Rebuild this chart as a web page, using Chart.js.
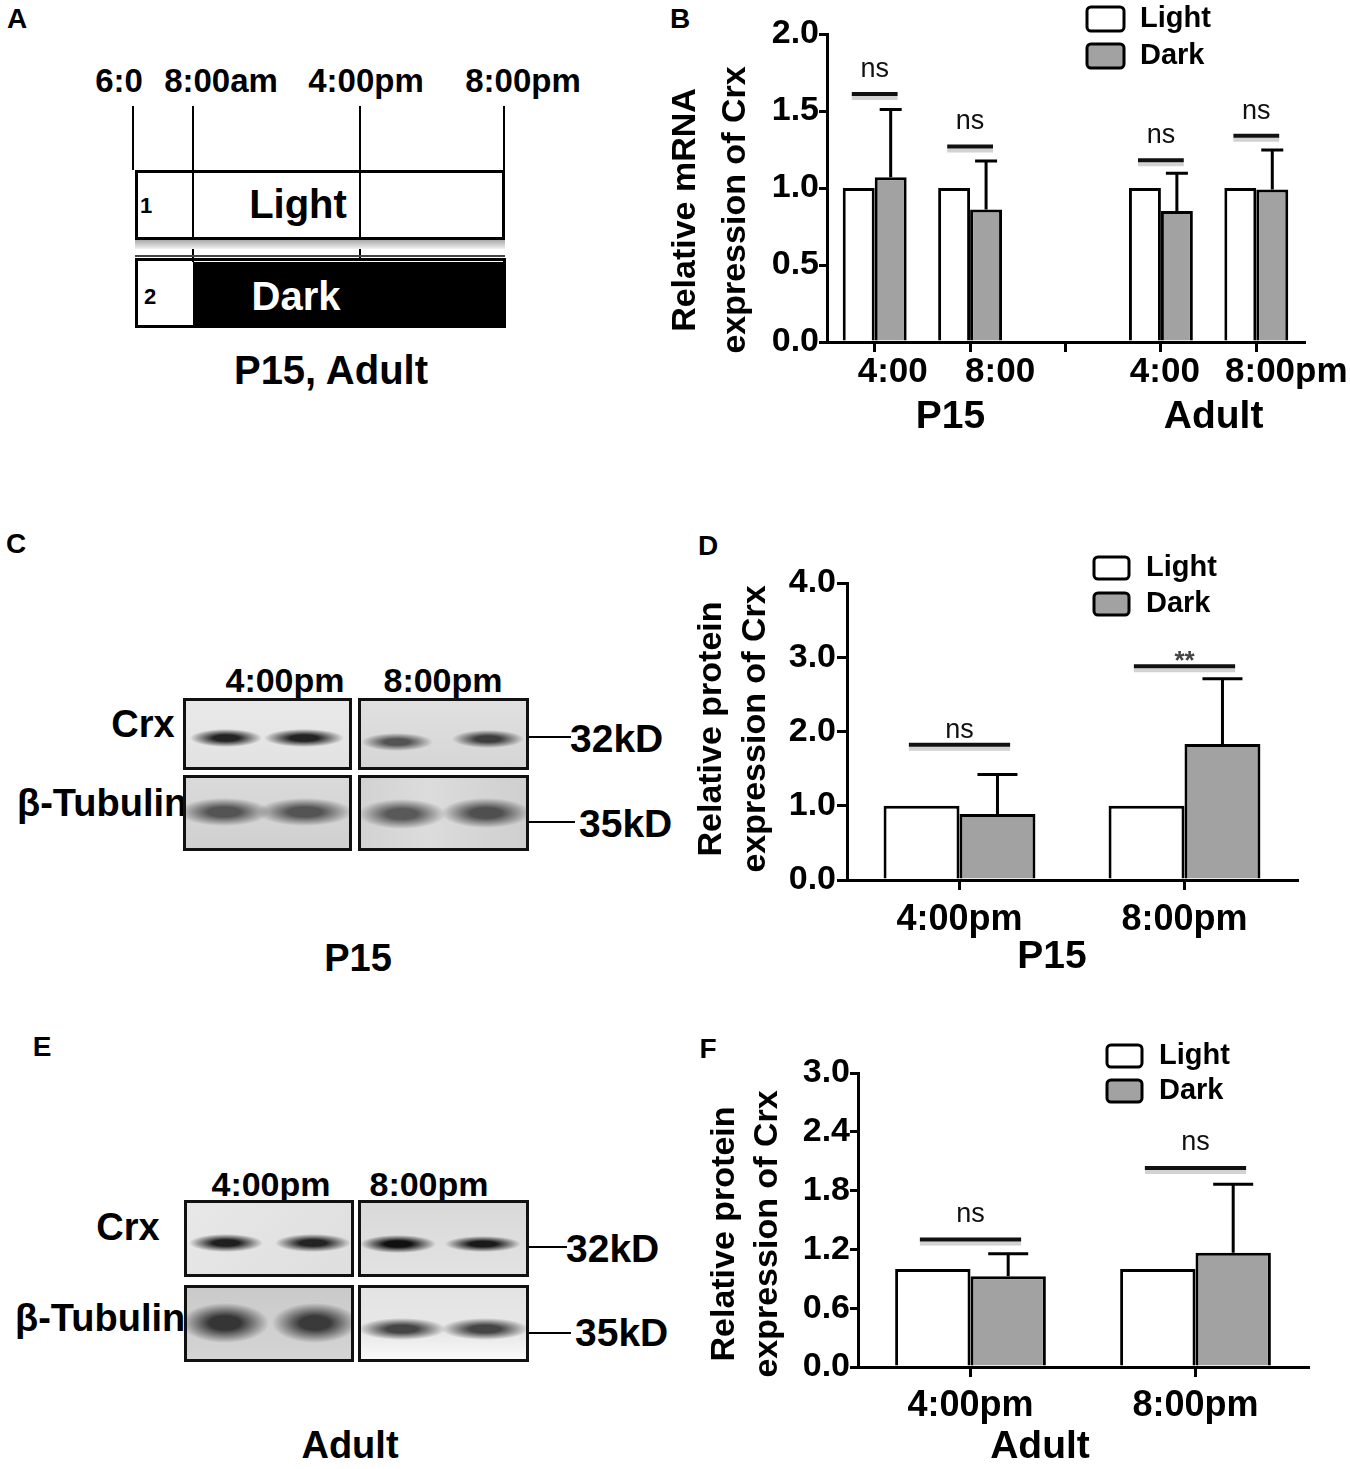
<!DOCTYPE html>
<html>
<head>
<meta charset="utf-8">
<title>Crx expression, light vs dark</title>
<script src="https://cdn.jsdelivr.net/npm/chart.js@4.4.1/dist/chart.umd.min.js"></script>
<style>
  html, body { margin: 0; background: #fff; }
  #fig { position: relative; width: 1350px; height: 1469px; overflow: hidden;
         font-family: "Liberation Sans", Arial, sans-serif; font-weight: bold; color: #000; }
  .t { position: absolute; white-space: nowrap; line-height: 1; }
  .c { transform: translate(-50%, -50%); }
  .l { transform: translate(0, -50%); }
  .ln { position: absolute; background: #000; }
  .box { position: absolute; box-sizing: border-box; border: 3px solid #000; }
  .blot { position: absolute; box-sizing: border-box; border: 3px solid #111; z-index: 2; }
  .chart { position: absolute; }
</style>
</head>
<body>
<div id="fig">

  <!-- A: light/dark schedule -->
  <div class="t c" style="left:17px;top:19px;font-size:28px">A</div>
  <div class="t c" style="left:119px;top:80px;font-size:33px">6:0</div>
  <div class="t c" style="left:221px;top:80px;font-size:33px">8:00am</div>
  <div class="t c" style="left:366px;top:80px;font-size:33px">4:00pm</div>
  <div class="t c" style="left:523px;top:80px;font-size:33px">8:00pm</div>
  <div class="ln" style="left:132px;top:106px;width:2px;height:64px"></div>
  <div class="ln" style="left:192px;top:106px;width:2px;height:156px"></div>
  <div class="ln" style="left:359px;top:106px;width:2px;height:152px"></div>
  <div class="ln" style="left:503px;top:106px;width:2px;height:64px"></div>
  <div class="box" style="left:135px;top:170px;width:370px;height:70px"></div>
  <div style="position:absolute;left:135px;top:240px;width:370px;height:9px;background:linear-gradient(#aaa,#f2f2f2)"></div>
  <div class="ln" style="left:135px;top:255px;width:370px;height:2px;background:#444"></div>
  <div class="box" style="left:135px;top:258px;width:371px;height:70px"></div>
  <div class="ln" style="left:193px;top:262px;width:313px;height:66px"></div>
  <div class="t c" style="left:146px;top:206px;font-size:22px">1</div>
  <div class="t c" style="left:298px;top:204px;font-size:40px">Light</div>
  <div class="t c" style="left:150px;top:297px;font-size:22px">2</div>
  <div class="t c" style="left:296px;top:296px;font-size:40px;color:#fff">Dark</div>
  <div class="t c" style="left:331px;top:370px;font-size:40px">P15, Adult</div>

  <!-- B -->
  <div class="t c" style="left:680px;top:19px;font-size:28px">B</div>
  <div class="chart" style="left:660px;top:0px"><canvas id="chartB" width="690" height="450"></canvas></div>

  <!-- C: P15 blot -->
  <div class="t c" style="left:16px;top:544px;font-size:28px">C</div>
  <div class="t c" style="left:285px;top:680px;font-size:34px">4:00pm</div>
  <div class="t c" style="left:443px;top:680px;font-size:34px">8:00pm</div>
  <div class="t c" style="left:143px;top:724px;font-size:38px">Crx</div>
  <div class="t l" style="left:17px;top:803px;font-size:38px">β-Tubulin</div>
  <div class="ln" style="left:529px;top:736px;width:42px;height:2px"></div>
  <div class="t l" style="left:570px;top:738px;font-size:39px">32kD</div>
  <div class="ln" style="left:529px;top:821px;width:46px;height:2px"></div>
  <div class="t l" style="left:579px;top:823px;font-size:39px">35kD</div>
  <div class="t c" style="left:358px;top:958px;font-size:38px">P15</div>
  <div id="blotC"></div>

  <!-- D -->
  <div class="t c" style="left:708px;top:546px;font-size:28px">D</div>
  <div class="chart" style="left:690px;top:540px"><canvas id="chartD" width="660" height="450"></canvas></div>

  <!-- E: adult blot -->
  <div class="t c" style="left:42px;top:1047px;font-size:28px">E</div>
  <div class="t c" style="left:271px;top:1184px;font-size:34px">4:00pm</div>
  <div class="t c" style="left:429px;top:1184px;font-size:34px">8:00pm</div>
  <div class="t c" style="left:128px;top:1227px;font-size:38px">Crx</div>
  <div class="t l" style="left:15px;top:1318px;font-size:38px">β-Tubulin</div>
  <div class="ln" style="left:529px;top:1246px;width:38px;height:2px"></div>
  <div class="t l" style="left:566px;top:1248px;font-size:39px">32kD</div>
  <div class="ln" style="left:529px;top:1332px;width:42px;height:2px"></div>
  <div class="t l" style="left:575px;top:1332px;font-size:39px">35kD</div>
  <div class="t c" style="left:350px;top:1445px;font-size:38px">Adult</div>
  <div id="blotE"></div>

  <!-- F -->
  <div class="t c" style="left:708px;top:1049px;font-size:28px">F</div>
  <div class="chart" style="left:690px;top:1020px"><canvas id="chartF" width="660" height="449"></canvas></div>
</div>

<script>
// ---- B: relative mRNA expression of Crx ----
const mrnaLabels = ['4:00', '8:00', '', '4:00', '8:00pm'];
const mrnaLight = [1.0, 1.0, null, 1.0, 1.0];
const mrnaDark = [1.07, 0.86, null, 0.85, 0.99];
const mrnaDarkErr = [0.44, 0.315, null, 0.245, 0.257];
const mrnaSigY = [1.61, 1.27, null, 1.18, 1.34];
const mrnaSigText = ['ns', 'ns', null, 'ns', 'ns'];
const mrnaGroups = ['P15', 'Adult'];
const mrnaTicks = [0, 0.5, 1.0, 1.5, 2.0];
const mrnaTitle = ['Relative mRNA', 'expression of Crx'];

// ---- D: relative protein, P15 ----
const p15Labels = ['4:00pm', '8:00pm'];
const p15Light = [1.0, 1.0];
const p15Dark = [0.89, 1.83];
const p15DarkErr = [0.53, 0.88];
const p15SigY = [1.82, 2.88];
const p15SigText = ['ns', '**'];
const p15Groups = ['P15'];
const p15Ticks = [0, 1.0, 2.0, 3.0, 4.0];

// ---- F: relative protein, adult ----
const adultLabels = ['4:00pm', '8:00pm'];
const adultLight = [1.0, 1.0];
const adultDark = [0.925, 1.165];
const adultDarkErr = [0.23, 0.70];
const adultSigY = [1.30, 2.03];
const adultSigText = ['ns', 'ns'];
const adultGroups = ['Adult'];
const adultTicks = [0, 0.6, 1.2, 1.8, 2.4, 3.0];

const proteinTitle = ['Relative protein', 'expression of Crx'];

const FONT = '"Liberation Sans", Arial, sans-serif';
Chart.defaults.font.family = FONT;
Chart.defaults.color = '#000';

// upward SD bars on the datasets that carry an errors array
const errorBars = {
  id: 'errorBars',
  afterDatasetsDraw(chart, args, o) {
    const ctx = chart.ctx, y = chart.scales.y;
    chart.data.datasets.forEach((ds, i) => {
      if (!ds.errors) return;
      chart.getDatasetMeta(i).data.forEach((bar, j) => {
        const v = ds.data[j], e = ds.errors[j];
        if (v == null || e == null) return;
        const top = y.getPixelForValue(v + e);
        ctx.save();
        ctx.strokeStyle = '#000';
        ctx.lineWidth = 3;
        ctx.beginPath();
        ctx.moveTo(bar.x, bar.y);
        ctx.lineTo(bar.x, top);
        ctx.moveTo(bar.x - o.cap, top);
        ctx.lineTo(bar.x + o.cap, top);
        ctx.stroke();
        ctx.restore();
      });
    });
  }
};

// significance lines with ns / ** above each group
const sigBars = {
  id: 'sigBars',
  afterDatasetsDraw(chart, args, o) {
    const ctx = chart.ctx, x = chart.scales.x, y = chart.scales.y;
    const catW = x.width / chart.data.labels.length;
    o.levels.forEach((lv, i) => {
      if (lv == null) return;
      const cx = x.getPixelForValue(i);
      const half = catW * o.frac / 2;
      const py = y.getPixelForValue(lv);
      ctx.save();
      ctx.lineWidth = 4;
      ctx.strokeStyle = '#d2d2d2';
      ctx.beginPath(); ctx.moveTo(cx - half, py + 4); ctx.lineTo(cx + half, py + 4); ctx.stroke();
      ctx.strokeStyle = '#111';
      ctx.beginPath(); ctx.moveTo(cx - half, py); ctx.lineTo(cx + half, py); ctx.stroke();
      const t = o.texts[i];
      const star = t === '**';
      ctx.font = star ? 'bold 26px ' + FONT : '27px ' + FONT;
      ctx.fillStyle = star ? '#444' : '#111';
      ctx.textAlign = 'center';
      ctx.textBaseline = 'alphabetic';
      ctx.fillText(t, cx, py - (star ? o.starGap : o.gap));
      ctx.restore();
    });
  }
};

// two-line rotated y title
const yTitle = {
  id: 'yTitle',
  afterDraw(chart, args, o) {
    const ctx = chart.ctx;
    ctx.save();
    ctx.font = 'bold 34px ' + FONT;
    ctx.fillStyle = '#000';
    ctx.textAlign = 'center';
    ctx.textBaseline = 'middle';
    o.lines.forEach((t, i) => {
      ctx.save();
      ctx.translate(o.x[i], o.y);
      ctx.rotate(-Math.PI / 2);
      ctx.fillText(t, 0, 0);
      ctx.restore();
    });
    ctx.restore();
  }
};

// category labels nudged per tick (panel B), placed from the x scale
const shiftedTicks = {
  id: 'shiftedTicks',
  afterDraw(chart, args, o) {
    if (!o.dx) return;
    const ctx = chart.ctx, x = chart.scales.x;
    ctx.save();
    ctx.font = 'bold 35px ' + FONT;
    ctx.fillStyle = '#000';
    ctx.textAlign = 'center';
    ctx.textBaseline = 'middle';
    chart.data.labels.forEach((t, i) => {
      ctx.fillText(t, x.getPixelForValue(i) + o.dx[i], chart.chartArea.bottom + o.dy);
    });
    ctx.restore();
  }
};

// group names under the tick labels (P15 / Adult)
const groupLabels = {
  id: 'groupLabels',
  afterDraw(chart, args, o) {
    const ctx = chart.ctx, x = chart.scales.x;
    ctx.save();
    ctx.font = 'bold 39px ' + FONT;
    ctx.fillStyle = '#000';
    ctx.textAlign = 'center';
    ctx.textBaseline = 'middle';
    o.texts.forEach((t, i) => {
      const [a, b] = o.spans[i];
      const cx = (x.getPixelForValue(a) + x.getPixelForValue(b)) / 2 + o.dx[i];
      ctx.fillText(t, cx, chart.chartArea.bottom + o.dy);
    });
    ctx.restore();
  }
};

// legend drawn as Prism-style boxes in the top right
const boxLegend = {
  id: 'boxLegend',
  afterDraw(chart, args, o) {
    const ctx = chart.ctx;
    chart.data.datasets.forEach((ds, i) => {
      const cy = o.y + i * o.dy;
      ctx.save();
      ctx.beginPath();
      ctx.roundRect(o.x, cy - o.h / 2, o.w, o.h, 4);
      ctx.fillStyle = ds.backgroundColor;
      ctx.fill();
      ctx.lineWidth = 3;
      ctx.strokeStyle = '#000';
      ctx.stroke();
      ctx.font = 'bold 29px ' + FONT;
      ctx.fillStyle = '#000';
      ctx.textAlign = 'left';
      ctx.textBaseline = 'middle';
      ctx.fillText(ds.label, o.x + o.w + o.gap, cy);
      ctx.restore();
    });
  }
};

function makeBarChart(id, d, s) {
  return new Chart(document.getElementById(id), {
    type: 'bar',
    data: {
      labels: d.labels,
      datasets: [
        { label: 'Light', data: d.light, backgroundColor: '#ffffff', borderColor: '#000', borderWidth: 3 },
        { label: 'Dark', data: d.dark, errors: d.err, backgroundColor: '#a2a2a2', borderColor: '#000', borderWidth: 3 }
      ]
    },
    options: {
      responsive: false,
      animation: false,
      events: [],
      layout: { padding: { top: s.top, right: s.right, left: 0, bottom: 0 } },
      datasets: { bar: { categoryPercentage: s.catPct, barPercentage: 1 } },
      scales: {
        x: {
          offset: true,
          afterFit: sc => { sc.height = s.xHeight; },
          grid: { drawOnChartArea: false, offset: false, tickLength: 10, lineWidth: 3, color: '#000' },
          border: { width: 3, color: '#000' },
          ticks: { display: !s.tickDx, font: { size: 36, weight: 'bold' }, color: '#000', padding: s.xPad,
                   maxRotation: 0, autoSkip: false }
        },
        y: {
          min: 0,
          max: d.ticks[d.ticks.length - 1],
          afterFit: sc => { sc.width = s.left; },
          afterBuildTicks: sc => { sc.ticks = d.ticks.map(v => ({ value: v })); },
          grid: { drawOnChartArea: false, tickLength: s.yTick, lineWidth: 3, color: '#000' },
          border: { width: 3, color: '#000' },
          ticks: { font: { size: 34, weight: 'bold' }, color: '#000', padding: s.yPad,
                   callback: v => v.toFixed(1) }
        }
      },
      plugins: {
        legend: { display: false },
        tooltip: { enabled: false },
        errorBars: { cap: s.cap },
        sigBars: { levels: d.sigY, texts: d.sigText, frac: s.sigFrac, gap: s.gap, starGap: -3 },
        yTitle: { lines: d.title, x: s.titleX, y: s.titleY },
        shiftedTicks: { dx: s.tickDx, dy: s.tickDy },
        groupLabels: { texts: d.groups, spans: d.spans, dx: s.groupDx, dy: s.groupDy },
        boxLegend: s.legend
      }
    },
    plugins: [errorBars, sigBars, yTitle, shiftedTicks, groupLabels, boxLegend]
  });
}

makeBarChart('chartB', {
  labels: mrnaLabels, light: mrnaLight, dark: mrnaDark, err: mrnaDarkErr,
  sigY: mrnaSigY, sigText: mrnaSigText, ticks: mrnaTicks, title: mrnaTitle,
  groups: mrnaGroups, spans: [[0, 1], [3, 4]]
}, {
  top: 34, right: 46, left: 167, xHeight: 108, catPct: 0.67, xPad: 3,
  tickDx: [18, 30, 0, 4, 30], tickDy: 30,
  yTick: 8, yPad: 0, cap: 11, sigFrac: 0.48, gap: 17,
  titleX: [26, 76], titleY: 210, groupDx: [28, 5], groupDy: 75,
  legend: { x: 427, y: 19, dy: 37, w: 37, h: 24, gap: 16 }
});

makeBarChart('chartD', {
  labels: p15Labels, light: p15Light, dark: p15Dark, err: p15DarkErr,
  sigY: p15SigY, sigText: p15SigText, ticks: p15Ticks, title: proteinTitle,
  groups: p15Groups, spans: [[0, 1]]
}, {
  top: 43, right: 53, left: 157, xHeight: 110, catPct: 0.675, xPad: 8,
  yTick: 10, yPad: 1, cap: 20, sigFrac: 0.45, gap: 7,
  titleX: [22, 66], titleY: 189, groupDx: [-20], groupDy: 77,
  legend: { x: 404, y: 28, dy: 36, w: 35, h: 22, gap: 17 }
});

makeBarChart('chartF', {
  labels: adultLabels, light: adultLight, dark: adultDark, err: adultDarkErr,
  sigY: adultSigY, sigText: adultSigText, ticks: adultTicks, title: proteinTitle,
  groups: adultGroups, spans: [[0, 1]]
}, {
  top: 53, right: 42, left: 168, xHeight: 102, catPct: 0.67, xPad: 7,
  yTick: 8, yPad: 0, cap: 20, sigFrac: 0.45, gap: 18,
  titleX: [35, 78], titleY: 214, groupDx: [-43], groupDy: 80,
  legend: { x: 417, y: 36, dy: 35, w: 35, h: 22, gap: 17 }
});

// ---- western blot pictures (C, E) ----
function band(b) {
  return 'radial-gradient(' + b[2] + 'px ' + b[3] + 'px at ' + b[0] + 'px ' + b[1] + 'px, ' +
    b[4] + ' 0%, ' + b[4] + ' 35%, rgba(0,0,0,0) 100%)';
}
function blot(parent, x, y, w, h, bg, bands) {
  const el = document.createElement('div');
  el.className = 'blot';
  el.style.cssText = 'left:' + x + 'px;top:' + y + 'px;width:' + w + 'px;height:' + h + 'px;' +
    'background:' + bands.map(band).concat([bg]).join(',') + ';';
  document.getElementById(parent).appendChild(el);
}
blot('blotC', 183, 698, 169, 72, 'linear-gradient(#e9e9e9,#e2e2e2)', [
  [40, 37, 36, 9, 'rgba(25,25,25,0.95)'], [118, 37, 40, 9, 'rgba(25,25,25,0.95)']]);
blot('blotC', 358, 698, 171, 72, 'linear-gradient(#e0e0e0,#d6d6d6)', [
  [36, 41, 36, 9, 'rgba(60,60,60,0.85)'], [127, 38, 36, 9, 'rgba(45,45,45,0.9)']]);
blot('blotC', 183, 775, 169, 76, 'linear-gradient(#dadada,#d0d0d0)', [
  [38, 34, 46, 14, 'rgba(70,70,70,0.9)'], [119, 34, 48, 14, 'rgba(70,70,70,0.9)']]);
blot('blotC', 358, 775, 171, 76, 'linear-gradient(90deg,#d2d2d2,#dcdcdc 40%,#cfcfcf)', [
  [41, 36, 44, 15, 'rgba(75,75,75,0.9)'], [125, 35, 45, 15, 'rgba(65,65,65,0.9)']]);
blot('blotE', 184, 1200, 170, 77, 'linear-gradient(135deg,#e8e8e8,#dedede)', [
  [39, 40, 37, 9, 'rgba(20,20,20,0.95)'], [126, 40, 38, 9, 'rgba(25,25,25,0.95)']]);
blot('blotE', 358, 1200, 171, 77, 'linear-gradient(#d9d9d9,#e2e2e2)', [
  [37, 41, 38, 9, 'rgba(10,10,10,0.97)'], [122, 41, 38, 8, 'rgba(15,15,15,0.95)']]);
blot('blotE', 184, 1285, 170, 77, 'linear-gradient(#cacaca,#d4d4d4)', [
  [38, 35, 44, 20, 'rgba(40,40,40,0.92)'], [128, 35, 43, 20, 'rgba(45,45,45,0.92)']]);
blot('blotE', 358, 1285, 171, 77, 'linear-gradient(#e3e3e3,#e8e8e8 65%,#fafafa)', [
  [41, 41, 44, 11, 'rgba(55,55,55,0.92)'], [124, 41, 44, 11, 'rgba(55,55,55,0.92)']]);
</script>
</body>
</html>
